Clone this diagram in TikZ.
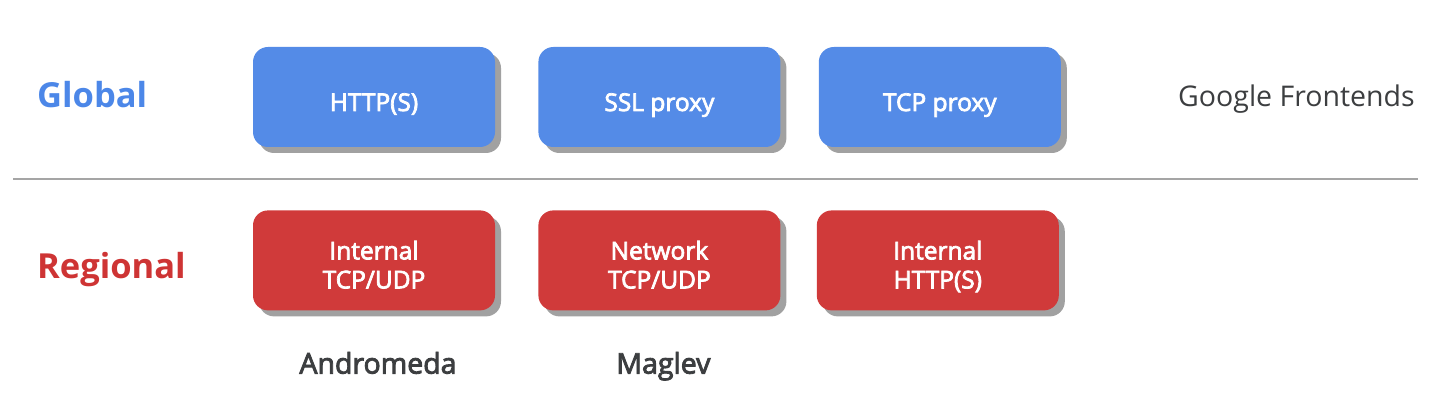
\documentclass[tikz,border=0pt]{standalone}
\usepackage{fontspec}
\setmainfont{Open Sans}
\IfFontExistsTF{NotoSans-Medium.ttf}
  {\newfontfamily\midfont{NotoSans-Medium.ttf}}
  {\newfontfamily\midfont{Open Sans}[FakeBold=3]}
\usetikzlibrary{positioning}
\usetikzlibrary{shadows}
\definecolor{lbblue}{RGB}{84,139,231}
\definecolor{lbred}{RGB}{208,58,58}
\definecolor{tagblue}{RGB}{76,135,232}
\definecolor{tagred}{RGB}{206,52,52}
\definecolor{ink}{RGB}{60,62,64}
\definecolor{rule}{RGB}{165,165,165}

\begin{document}
\begin{tikzpicture}[x=1pt,y=-1pt,node distance=63pt and 43pt,
  lbox/.style={minimum width=242pt,minimum height=100pt,inner ysep=0pt,rounded corners=15pt,
    text=white,align=center,font=\midfont\fontsize{24.5}{29}\selectfont,
    drop shadow={shadow xshift=6pt,shadow yshift=-6pt,fill=black!37,opacity=1}},
  oneline/.style={text height=64pt,text depth=36pt},
  twoline/.style={text height=78pt,text depth=22pt},
  gbox/.style={lbox,oneline,fill=lbblue},
  rbox/.style={lbox,twoline,fill=lbred},
  tag/.style={anchor=base west,inner sep=0pt,font=\bfseries\fontsize{34.5}{40}\selectfont},
  sub/.style={anchor=base,inner sep=0pt,text=ink,font=\midfont\fontsize{28.5}{32}\selectfont}]
  \useasboundingbox (0,0) rectangle (1430,406);
  \node[gbox] (http) at (374,97) {HTTP(S)};
  \node[gbox,right=of http] (ssl) {SSL proxy};
  \node[gbox,right=38pt of ssl] (tcp) {TCP proxy};
  \node[rbox,below=of http] (inttcp) {Internal\\TCP/UDP};
  \node[rbox,below=of ssl] (nettcp) {Network\\TCP/UDP};
  \node[rbox,below=of tcp,xshift=-2pt] (inthttp) {Internal\\HTTP(S)};
  \node[tag,text=tagblue] (global) at (37,108) {Global};
  \node[tag,text=tagred] (regional) at (37,278) {Regional};
  \node[anchor=base west,inner sep=0pt,text=ink,font=\fontsize{28.5}{32}\selectfont] (gfe) at (1178,107) {Google Frontends};
  \node[sub,xshift=4pt] (andromeda) at ([yshift=-63pt]inttcp.south) {Andromeda};
  \node[sub,xshift=4pt] (maglev) at ([yshift=-63pt]nettcp.south) {Maglev};
  \coordinate (divl) at (13,179);
  \coordinate (divr) at (1418,179);
  \draw[rule,line width=2pt] (divl) -- (divr);
\end{tikzpicture}
\end{document}
